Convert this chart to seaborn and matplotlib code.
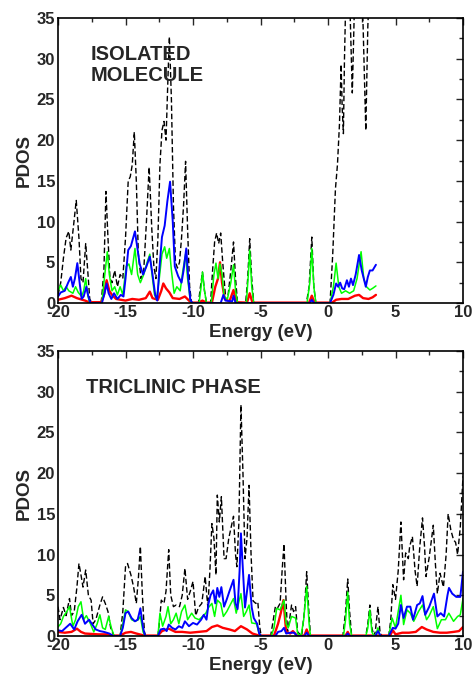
import matplotlib
matplotlib.use("Agg")
import matplotlib.pyplot as plt
import seaborn as sns
import pandas as pd
from matplotlib.ticker import MultipleLocator

# PDOS values, (energy eV, states)
iso_total = [(-20, 1.0), (-19.8, 2.5), (-19.6, 5.5), (-19.4, 8.0), (-19.2, 8.8), (-19.05, 6.5), (-18.85, 9.5),
             (-18.65, 12.6), (-18.45, 8), (-18.3, 3), (-18.15, 2.5), (-17.95, 7.3), (-17.8, 4), (-17.65, 0.5),
             (-17.5, 0), (-16.8, 0), (-16.6, 4), (-16.45, 13.7), (-16.3, 8), (-16.15, 3), (-16.0, 2.5), (-15.8, 4.0),
             (-15.6, 2.0), (-15.4, 3.5), (-15.2, 3), (-15.0, 8), (-14.8, 15.0), (-14.65, 15.5), (-14.5, 17),
             (-14.35, 21), (-14.2, 15), (-14.05, 6), (-13.85, 3), (-13.65, 4), (-13.45, 10), (-13.25, 16.7),
             (-13.05, 9), (-12.9, 4.5), (-12.75, 3), (-12.6, 8), (-12.45, 17), (-12.3, 21.2), (-12.15, 22.3),
             (-12.0, 20), (-11.85, 28), (-11.75, 32.7), (-11.6, 25), (-11.45, 12), (-11.3, 5), (-11.15, 4.3),
             (-11.0, 5), (-10.85, 8), (-10.7, 12), (-10.55, 17.4), (-10.4, 9), (-10.25, 2), (-10.1, 0), (-9.6, 0),
             (-9.45, 2), (-9.3, 3.8), (-9.15, 1.5), (-9.0, 0), (-8.7, 0), (-8.55, 4), (-8.4, 7.5), (-8.25, 8.6),
             (-8.1, 7.3), (-7.95, 8.6), (-7.8, 5), (-7.6, 1), (-7.4, 1), (-7.2, 4), (-7.0, 7.5), (-6.85, 3),
             (-6.7, 0), (-6.1, 0), (-5.95, 3), (-5.8, 7.9), (-5.65, 3), (-5.5, 0), (-1.6, 0), (-1.4, 2),
             (-1.2, 8.1), (-1.05, 2), (-0.9, 0), (0.15, 0), (0.35, 6), (0.55, 14), (0.7, 17), (0.85, 22),
             (0.97, 29.3), (1.05, 24), (1.14, 20.8), (1.22, 30), (1.35, 40), (1.55, 40), (1.63, 36), (1.8, 25.8),
             (1.95, 36), (2.1, 40), (2.45, 40), (2.6, 34), (2.8, 21.2), (2.95, 34), (3.1, 40), (3.5, 40)]
iso_blue = [(-20, 0.8), (-19.8, 1.3), (-19.5, 1.5), (-19.25, 2.5), (-19.05, 3.2), (-18.9, 2.0), (-18.75, 3),
            (-18.57, 4.9), (-18.4, 2.5), (-18.25, 0.5), (-18.1, 0.8), (-17.9, 2.0), (-17.75, 0.8), (-17.6, 0),
            (-16.75, 0), (-16.55, 1.2), (-16.4, 2.4), (-16.25, 1.2), (-16.05, 0.5), (-15.85, 1.2), (-15.6, 0.5),
            (-15.35, 1.0), (-15.15, 0.8), (-15.0, 3.0), (-14.8, 6.5), (-14.6, 7), (-14.3, 8.8), (-14.1, 6.5),
            (-13.95, 4.8), (-13.7, 3.5), (-13.45, 4.5), (-13.2, 5.7), (-13.0, 3.5), (-12.8, 1.0), (-12.65, 0.3),
            (-12.5, 4), (-12.3, 8.1), (-12.1, 9.5), (-11.9, 12.5), (-11.7, 14.9), (-11.5, 10), (-11.35, 4.5),
            (-11.1, 3.3), (-10.85, 2.5), (-10.7, 4), (-10.5, 6.7), (-10.35, 3), (-10.2, 0.4), (-10.05, 0),
            (-7.95, 0), (-7.75, 1.0), (-7.6, 0.3), (-7.1, 0.2), (-7.0, 0.9), (-6.85, 0), (-1.35, 0), (-1.2, 0.4),
            (-1.05, 0), (0.15, 0), (0.4, 1.0), (0.6, 2.4), (0.75, 2.0), (0.9, 2.5), (1.05, 1.8), (1.2, 1.7),
            (1.4, 2.8), (1.55, 2.0), (1.7, 3.0), (1.85, 2.2), (2.05, 3.5), (2.3, 5.9), (2.5, 4.0), (2.65, 3.0),
            (2.8, 2.0), (2.95, 3.2), (3.1, 4.0), (3.3, 4.0), (3.55, 4.7)]
iso_green = [(-20, 1.5), (-19.8, 2.2), (-19.6, 1.5), (-19.4, 2.0), (-19.2, 1.5), (-18.9, 1.2), (-18.7, 2.0),
             (-18.5, 1.3), (-18.25, 0.8), (-18.1, 1.5), (-17.95, 3.0), (-17.8, 1.0), (-17.65, 0), (-16.75, 0),
             (-16.6, 2.5), (-16.35, 6.3), (-16.2, 3.5), (-16.0, 1.5), (-15.8, 2.0), (-15.6, 1.0), (-15.4, 2.0),
             (-15.2, 1.0), (-14.95, 4.5), (-14.75, 4.8), (-14.55, 3.5), (-14.3, 6.7), (-14.1, 3.5), (-13.9, 2.5),
             (-13.65, 3.5), (-13.4, 5), (-13.2, 6.0), (-13.0, 3.0), (-12.85, 1.0), (-12.7, 0.5), (-12.5, 3),
             (-12.3, 6), (-12.1, 6.9), (-11.95, 5.5), (-11.75, 6.7), (-11.6, 4), (-11.4, 1.2), (-11.2, 2.0),
             (-10.95, 1.5), (-10.75, 4.0), (-10.55, 6), (-10.4, 3.0), (-10.2, 0.3), (-10.05, 0), (-9.55, 0),
             (-9.4, 2.0), (-9.3, 3.8), (-9.15, 1.5), (-9.0, 0), (-8.65, 0), (-8.45, 3.5), (-8.3, 4.9),
             (-8.15, 3.0), (-8.0, 4.8), (-7.85, 3.5), (-7.7, 0.8), (-7.45, 0.5), (-7.2, 2.5), (-7.0, 4.7),
             (-6.85, 1.5), (-6.7, 0), (-6.05, 0), (-5.9, 3.5), (-5.8, 6.5), (-5.65, 2.0), (-5.5, 0), (-1.55, 0),
             (-1.35, 2.5), (-1.2, 6.7), (-1.05, 2.0), (-0.9, 0), (0.15, 0), (0.4, 2.0), (0.6, 4.9), (0.8, 2.0),
             (1.0, 1.2), (1.3, 1.5), (1.6, 1.2), (1.9, 1.5), (2.15, 3.0), (2.45, 6.3), (2.65, 3.0), (2.85, 2.0),
             (3.1, 1.6), (3.3, 1.8), (3.55, 2.1)]
iso_red = [(-20, 0.4), (-19.5, 0.6), (-19.0, 0.9), (-18.6, 0.6), (-18.0, 0.3), (-17.7, 0.1), (-16.8, 0.1),
           (-16.6, 1.0), (-16.4, 2.8), (-16.2, 1.5), (-16.0, 1.0), (-15.7, 0.5), (-15.0, 0.3), (-14.5, 0.5),
           (-14.0, 0.4), (-13.5, 0.6), (-13.2, 1.4), (-13.0, 0.6), (-12.6, 0.4), (-12.35, 1.5), (-12.2, 2.4),
           (-12.0, 1.8), (-11.75, 1.3), (-11.5, 0.6), (-11.0, 0.5), (-10.6, 0.8), (-10.3, 0.3), (-10.1, 0.05),
           (-9.6, 0.05), (-9.3, 0.3), (-9.0, 0.05), (-8.6, 0.05), (-8.35, 2.0), (-8.15, 3.0), (-8.0, 5.0),
           (-7.85, 2.5), (-7.65, 0.5), (-7.3, 0.2), (-7.0, 1.6), (-6.8, 0.1), (-6.0, 0.05), (-5.8, 1.2),
           (-5.6, 0.05), (-1.4, 0.05), (-1.2, 0.9), (-1.0, 0.05), (0.3, 0.05), (0.6, 0.4), (1.0, 0.5), (1.5, 0.5),
           (2.0, 0.9), (2.3, 1.0), (2.6, 0.6), (3.0, 0.5), (3.3, 0.7), (3.55, 1.0)]

tri_total = [(-20, 3.6), (-19.85, 2.0), (-19.6, 3.5), (-19.4, 2.5), (-19.15, 4.6), (-19.0, 2.5), (-18.8, 3.0),
             (-18.6, 6), (-18.45, 8.9), (-18.3, 7.5), (-18.15, 6), (-17.95, 8.1), (-17.75, 5), (-17.55, 4.4),
             (-17.4, 1.5), (-17.2, 2), (-16.9, 3.8), (-16.7, 4.8), (-16.5, 4.0), (-16.3, 3.0), (-16.1, 1.0),
             (-15.85, 0), (-15.4, 0), (-15.2, 3), (-15.0, 8.5), (-14.85, 8.9), (-14.6, 7.5), (-14.4, 6),
             (-14.2, 4), (-14.05, 7), (-13.9, 11.0), (-13.75, 5), (-13.6, 0.5), (-13.5, 0), (-12.6, 0),
             (-12.5, 1.5), (-12.35, 4.4), (-12.15, 4), (-12.0, 5.5), (-11.8, 10.6), (-11.65, 5), (-11.45, 3.6),
             (-11.25, 3.8), (-11.0, 3.6), (-10.8, 5), (-10.6, 8.3), (-10.4, 4.5), (-10.2, 5.5), (-10.0, 6.7),
             (-9.8, 2.5), (-9.6, 3.5), (-9.35, 4.0), (-9.1, 7.3), (-8.9, 3.5), (-8.75, 8), (-8.6, 13.8),
             (-8.45, 12), (-8.3, 7.5), (-8.2, 17.3), (-8.05, 14), (-7.9, 17.1), (-7.7, 9.5), (-7.55, 9.5),
             (-7.35, 12), (-7.0, 14.7), (-6.85, 10), (-6.75, 8.5), (-6.6, 14), (-6.45, 28.4), (-6.3, 20),
             (-6.15, 9.5), (-6.0, 12), (-5.85, 18.5), (-5.7, 10), (-5.55, 4.3), (-5.35, 4.0), (-5.2, 4.2),
             (-5.05, 1.0), (-4.95, 0), (-4.25, 0), (-4.1, 1.5), (-3.9, 3.6), (-3.75, 3.4), (-3.55, 4.0),
             (-3.4, 8), (-3.26, 11.3), (-3.1, 4.0), (-3.0, 0.5), (-2.85, 2.0), (-2.7, 3.8), (-2.55, 3.0),
             (-2.4, 3.6), (-2.25, 0.5), (-1.95, 0), (-1.75, 3), (-1.58, 7.9), (-1.42, 3), (-1.3, 0), (1.1, 0),
             (1.3, 3), (1.46, 7.0), (1.6, 3), (1.75, 0), (2.8, 0), (2.95, 1.5), (3.1, 3.8), (3.25, 1.0), (3.4, 0),
             (3.5, 0.5), (3.7, 3.6), (3.85, 0.5), (4.0, 0), (4.5, 0), (4.65, 2.0), (4.8, 6.3), (5.0, 4.5),
             (5.2, 8), (5.4, 14.0), (5.6, 6.9), (5.75, 10.2), (5.95, 9.5), (6.05, 11), (6.25, 12.2), (6.45, 8),
             (6.6, 6.1), (6.8, 11), (7.0, 14.5), (7.15, 11), (7.26, 7.3), (7.5, 9.7), (7.8, 13.6), (7.95, 9),
             (8.1, 5.2), (8.3, 7.7), (8.55, 6), (8.75, 10), (8.9, 15), (9.1, 13), (9.3, 11.8), (9.45, 11.5),
             (9.6, 10.0), (9.8, 13.4), (10.0, 19.6)]
tri_blue = [(-20, 0.7), (-19.7, 0.6), (-19.3, 1.2), (-19.1, 1.5), (-18.8, 0.8), (-18.55, 1.8), (-18.25, 2.6),
            (-18.0, 1.5), (-17.7, 2.0), (-17.5, 1.5), (-17.2, 0.8), (-16.9, 0.6), (-16.6, 0.5), (-16.2, 0.3),
            (-15.9, 0), (-15.4, 0), (-15.2, 1.0), (-15.0, 2.8), (-14.8, 3.0), (-14.55, 2.2), (-14.3, 1.8),
            (-14.1, 2.0), (-13.9, 3.4), (-13.7, 1.0), (-13.55, 0), (-12.6, 0), (-12.4, 0.8), (-12.15, 0.9),
            (-11.95, 0.6), (-11.8, 1.4), (-11.55, 1.0), (-11.3, 0.8), (-11.05, 1.2), (-10.8, 1.0), (-10.6, 1.8),
            (-10.3, 1.2), (-10.0, 1.6), (-9.7, 1.4), (-9.4, 2.0), (-9.2, 2.6), (-9.0, 2.0), (-8.85, 4.0),
            (-8.7, 5.0), (-8.5, 5.6), (-8.35, 4.0), (-8.2, 5.9), (-8.05, 4.8), (-7.9, 6.0), (-7.7, 3.6),
            (-7.5, 4.5), (-7.3, 5.5), (-7.0, 6.9), (-6.85, 4.0), (-6.7, 3.3), (-6.55, 8), (-6.45, 12.6),
            (-6.3, 8), (-6.15, 3.5), (-6.0, 5.5), (-5.85, 7.5), (-5.65, 3.5), (-5.5, 2.2), (-5.25, 1.5),
            (-5.1, 0.3), (-4.95, 0), (-3.9, 0), (-3.7, 0.5), (-3.45, 0.6), (-3.26, 1.0), (-3.1, 0.3),
            (-2.8, 0.4), (-2.5, 0.4), (-2.3, 0), (-1.75, 0), (-1.58, 0.4), (-1.4, 0), (1.3, 0), (1.46, 0.3),
            (1.6, 0), (3.5, 0), (3.7, 0.6), (3.9, 0), (4.5, 0), (4.8, 1.0), (5.0, 0.9), (5.2, 1.5), (5.4, 3.8),
            (5.6, 2.2), (5.85, 3.6), (6.1, 3.6), (6.3, 2.0), (6.6, 3.8), (6.8, 4.0), (7.0, 4.9), (7.2, 2.6),
            (7.5, 3.6), (7.85, 5.2), (8.1, 2.4), (8.35, 2.8), (8.6, 2.4), (8.85, 5.0), (8.96, 5.9), (9.2, 5.2),
            (9.5, 4.8), (9.8, 4.8), (10.0, 7.9)]
tri_green = [(-20, 1.1), (-19.8, 1.5), (-19.6, 2.4), (-19.35, 3.0), (-19.15, 3.6), (-18.9, 1.2), (-18.7, 2.0),
             (-18.5, 3.6), (-18.3, 4.2), (-18.1, 2.0), (-17.9, 2.5), (-17.6, 1.5), (-17.35, 0.5), (-17.1, 1.5),
             (-16.9, 2.6), (-16.7, 1.0), (-16.5, 0.8), (-16.25, 2.4), (-16.05, 1.0), (-15.85, 0), (-15.4, 0),
             (-15.2, 1.5), (-15.0, 3.2), (-14.8, 3.0), (-14.55, 2.0), (-14.3, 1.8), (-14.05, 2.0), (-13.9, 2.4),
             (-13.7, 0.5), (-13.55, 0), (-12.6, 0), (-12.45, 2.8), (-12.25, 1.2), (-12.0, 2.4), (-11.85, 3.6),
             (-11.65, 1.5), (-11.45, 2.0), (-11.25, 2.8), (-11.05, 1.5), (-10.85, 3.0), (-10.6, 3.8),
             (-10.4, 2.0), (-10.1, 2.8), (-9.85, 2.2), (-9.55, 2.0), (-9.3, 2.4), (-9.05, 2.8), (-8.85, 3.5),
             (-8.6, 4.0), (-8.4, 2.4), (-8.2, 4.4), (-7.95, 4.0), (-7.75, 2.4), (-7.5, 3.0), (-7.0, 4.6),
             (-6.8, 2.8), (-6.6, 4.2), (-6.45, 5.2), (-6.25, 2.4), (-6.05, 3.0), (-5.85, 3.8), (-5.65, 1.6),
             (-5.3, 1.5), (-5.1, 0.3), (-4.95, 0), (-4.2, 0), (-4.0, 1.0), (-3.8, 3.4), (-3.55, 3.2),
             (-3.26, 4.4), (-3.1, 1.5), (-2.95, 1.0), (-2.7, 2.4), (-2.4, 2.2), (-2.25, 0.3), (-2.0, 0),
             (-1.8, 2), (-1.58, 6.1), (-1.4, 1.5), (-1.3, 0), (1.15, 0), (1.3, 2), (1.46, 5.4), (1.6, 1.5),
             (1.75, 0), (2.8, 0), (2.95, 1.0), (3.1, 3.2), (3.25, 0.5), (3.4, 0), (3.55, 0.2), (3.7, 1.0),
             (3.85, 0), (4.5, 0), (4.75, 2.2), (5.0, 1.0), (5.2, 3), (5.4, 5.0), (5.6, 1.4), (5.85, 3.2),
             (6.1, 2.8), (6.35, 1.8), (6.7, 3.0), (7.0, 3.8), (7.3, 2.0), (7.5, 2.5), (7.8, 3.6), (8.1, 0.9),
             (8.4, 2.0), (8.7, 2.0), (8.95, 2.8), (9.3, 1.8), (9.6, 2.4), (9.8, 2.6), (10.0, 4.6)]
tri_red = [(-20, 0.5), (-19.5, 0.4), (-19.0, 0.5), (-18.6, 0.9), (-18.3, 0.5), (-18.0, 0.3), (-17.0, 0.2),
           (-16.3, 0.2), (-15.9, 0.05), (-15.4, 0.05), (-15.0, 0.4), (-14.6, 0.5), (-14.2, 0.3), (-13.6, 0.05),
           (-12.6, 0.05), (-12.3, 0.6), (-11.8, 0.9), (-11.3, 0.5), (-10.8, 0.5), (-10.2, 0.4), (-9.6, 0.5),
           (-9.0, 0.6), (-8.6, 1.1), (-8.2, 1.3), (-7.8, 1.0), (-7.3, 0.8), (-6.9, 0.6), (-6.45, 1.2),
           (-6.0, 0.8), (-5.6, 0.3), (-5.1, 0.05), (-4.0, 0.05), (-3.7, 1.5), (-3.5, 2.8), (-3.3, 4.4),
           (-3.1, 0.5), (-2.8, 0.3), (-2.6, 0.6), (-2.3, 0.05), (-1.75, 0.05), (-1.58, 0.8), (-1.4, 0.05),
           (1.3, 0.05), (1.46, 0.5), (1.6, 0.05), (3.5, 0.05), (4.6, 0.05), (4.8, 0.7), (5.0, 0.2), (5.5, 0.4),
           (6.0, 0.4), (6.5, 0.5), (6.95, 1.1), (7.3, 0.8), (7.8, 0.5), (8.3, 0.4), (8.8, 0.4), (9.3, 0.5),
           (9.7, 0.6), (10.0, 1.1)]

sns.set_style("white")
plt.rcParams['font.family'] = ['Liberation Sans', 'DejaVu Sans']
plt.rcParams['font.weight'] = 'bold'
plt.rcParams['axes.unicode_minus'] = False


def draw(ax, total, red, green, blue, label, label_x, label_y):
    # black dashed total first, coloured projections on top
    for pts, col, lw, ls in [(total, 'black', 1.0, (0, (4, 2))),
                             (red, '#ff0000', 1.7, '-'),
                             (green, '#00ff00', 1.1, '-'),
                             (blue, '#0000ff', 1.4, '-')]:
        df = pd.DataFrame(pts, columns=["E", "pdos"])
        sns.lineplot(data=df, x="E", y="pdos", ax=ax, color=col, lw=lw,
                     linestyle=ls, estimator=None, sort=False)
    ax.set_xlim(-20, 10)
    ax.set_ylim(0, 35)
    ax.xaxis.set_major_locator(MultipleLocator(5))
    ax.xaxis.set_minor_locator(MultipleLocator(2.5))
    ax.yaxis.set_major_locator(MultipleLocator(5))
    ax.yaxis.set_minor_locator(MultipleLocator(2.5))
    ax.tick_params(which='both', direction='in', top=True, right=True, width=1, labelsize=12)
    ax.tick_params(which='major', length=5)
    ax.tick_params(which='minor', length=3)
    ax.tick_params(axis='x', pad=1.5)
    ax.tick_params(axis='y', pad=2)
    for s in ax.spines.values():
        s.set_linewidth(1.2)
        s.set_color('black')
    ax.set_xlabel("Energy (eV)", fontsize=13.5, fontweight='bold', labelpad=2.5)
    ax.set_ylabel("PDOS", fontsize=13.5, fontweight='bold', labelpad=3)
    ax.text(label_x, label_y, label, transform=ax.transAxes, fontsize=14.5, fontweight='bold',
            va='top', ha='left', linespacing=1.15)


fig = plt.figure(figsize=(4.74, 6.77), dpi=100)
ax1 = fig.add_axes([0.1224, 0.5524, 0.8544, 0.421])
ax2 = fig.add_axes([0.1224, 0.0606, 0.8544, 0.421])
draw(ax1, iso_total, iso_red, iso_green, iso_blue, "ISOLATED\nMOLECULE", 0.08, 0.905)
draw(ax2, tri_total, tri_red, tri_green, tri_blue, "TRICLINIC PHASE", 0.068, 0.905)

fig.savefig("out.png", dpi=100)
